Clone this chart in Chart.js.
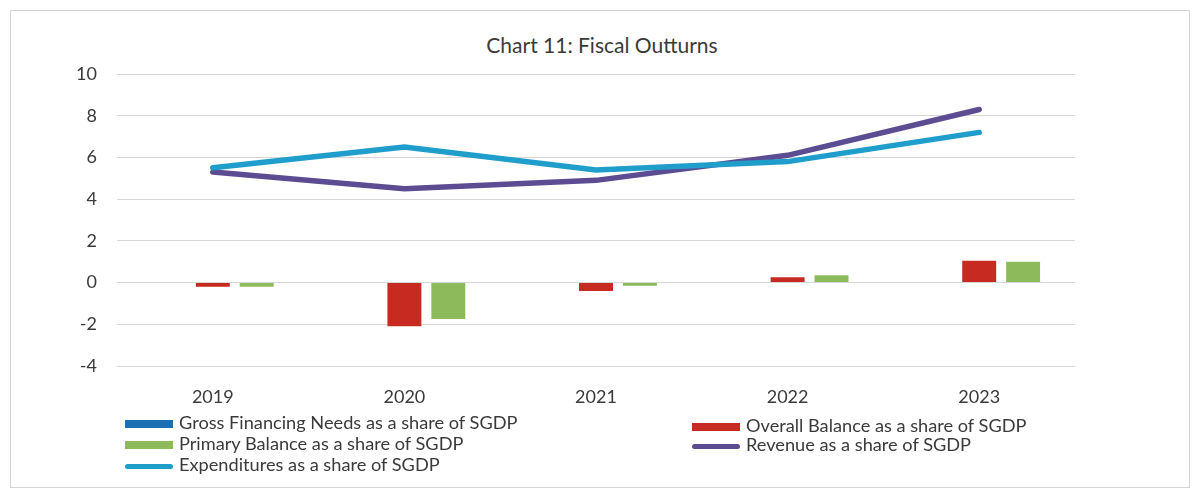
<!DOCTYPE html>
<html>
<head>
<meta charset="utf-8">
<script src="https://cdn.jsdelivr.net/npm/chart.js@4/dist/chart.umd.min.js"></script>
<style>
  body { margin: 0; background: #fff; }
  #wrap { position: relative; width: 1194px; height: 493px; font-family: Lato, sans-serif; color: #3a3a3a; }
  #frame { position: absolute; left: 10px; top: 10px; width: 1178px; height: 476px; border: 1px solid #d4d4d4; }
  #title { position: absolute; left: 0; width: 1204px; top: 33px; text-align: center; font-size: 21px; line-height: 24px; }
  canvas { position: absolute; left: 0; top: 0; }
  .leg { position: absolute; font-size: 18.2px; line-height: 20px; white-space: nowrap; }
  .leg i { display: inline-block; width: 48px; vertical-align: middle; margin-right: 6px; }
  .bar i { height: 8px; }
  .line i { height: 5px; border-radius: 3px; }
</style>
</head>
<body>
<div id="wrap">
  <div id="frame"></div>
  <div id="title">Chart 11: Fiscal Outturns</div>
  <canvas id="fiscal" width="1194" height="493"></canvas>
  <div id="legend"></div>
</div>
<script>
const years = ['2019', '2020', '2021', '2022', '2023'];
const grossFinancing = [null, null, null, null, null];
const overallBalance = [-0.2, -2.1, -0.4, 0.25, 1.05];
const primaryBalance = [-0.2, -1.75, -0.15, 0.35, 1.0];
const revenue = [5.3, 4.5, 4.9, 6.1, 8.3];
const expenditures = [5.5, 6.5, 5.4, 5.8, 7.2];
const yTicks = [-4, -2, 0, 2, 4, 6, 8, 10];

const colors = {
  gfn: '#1b6fb3',
  overall: '#c62a20',
  primary: '#8dbb5c',
  revenue: '#5c4c92',
  expenditures: '#1f9dcb'
};

const textColor = '#3a3a3a';

new Chart(document.getElementById('fiscal'), {
  type: 'bar',
  data: {
    labels: years,
    datasets: [
      { label: 'Gross Financing Needs as a share of SGDP', data: grossFinancing, backgroundColor: colors.gfn, order: 3 },
      { label: 'Overall Balance as a share of SGDP', data: overallBalance, backgroundColor: colors.overall, order: 3 },
      { label: 'Primary Balance as a share of SGDP', data: primaryBalance, backgroundColor: colors.primary, order: 3 },
      { type: 'line', label: 'Revenue as a share of SGDP', data: revenue, borderColor: colors.revenue,
        borderWidth: 5.5, pointRadius: 0, tension: 0, order: 2, borderCapStyle: 'round' },
      { type: 'line', label: 'Expenditures as a share of SGDP', data: expenditures, borderColor: colors.expenditures,
        borderWidth: 5.5, pointRadius: 0, tension: 0, order: 1, borderCapStyle: 'round' }
    ]
  },
  options: {
    responsive: false,
    animation: false,
    datasets: { bar: { categoryPercentage: 0.6875, barPercentage: 0.773 } },
    layout: { padding: { left: 0, right: 119, top: 74, bottom: 0 } },
    plugins: {
      legend: { display: false },
      tooltip: { enabled: false },
      title: { display: false }
    },
    scales: {
      x: {
        grid: { display: false, drawTicks: false },
        border: { display: false },
        ticks: { color: textColor, font: { family: 'Lato', size: 18 }, padding: 20 },
        afterFit: s => { s.height = 127; }
      },
      y: {
        min: -4,
        max: 10,
        afterBuildTicks: s => { s.ticks = yTicks.map(v => ({ value: v })); },
        grid: { color: '#d6d6d6', lineWidth: 1, drawTicks: false },
        border: { display: false },
        ticks: { color: textColor, font: { family: 'Lato', size: 18 }, padding: 20 },
        afterFit: s => { s.width = 117; }
      }
    }
  }
});

// legend laid out in two columns below the axis
const legendItems = [
  { text: 'Gross Financing Needs as a share of SGDP', color: colors.gfn, kind: 'bar', x: 125, y: 412 },
  { text: 'Primary Balance as a share of SGDP', color: colors.primary, kind: 'bar', x: 125, y: 433 },
  { text: 'Expenditures as a share of SGDP', color: colors.expenditures, kind: 'line', x: 125, y: 454 },
  { text: 'Overall Balance as a share of SGDP', color: colors.overall, kind: 'bar', x: 692, y: 415 },
  { text: 'Revenue as a share of SGDP', color: colors.revenue, kind: 'line', x: 692, y: 434 }
];
const legend = document.getElementById('legend');
legendItems.forEach(it => {
  const d = document.createElement('div');
  d.className = 'leg ' + it.kind;
  d.style.left = it.x + 'px';
  d.style.top = it.y + 'px';
  d.innerHTML = `<i style="background:${it.color}"></i>${it.text}`;
  legend.appendChild(d);
});
</script>
</body>
</html>
